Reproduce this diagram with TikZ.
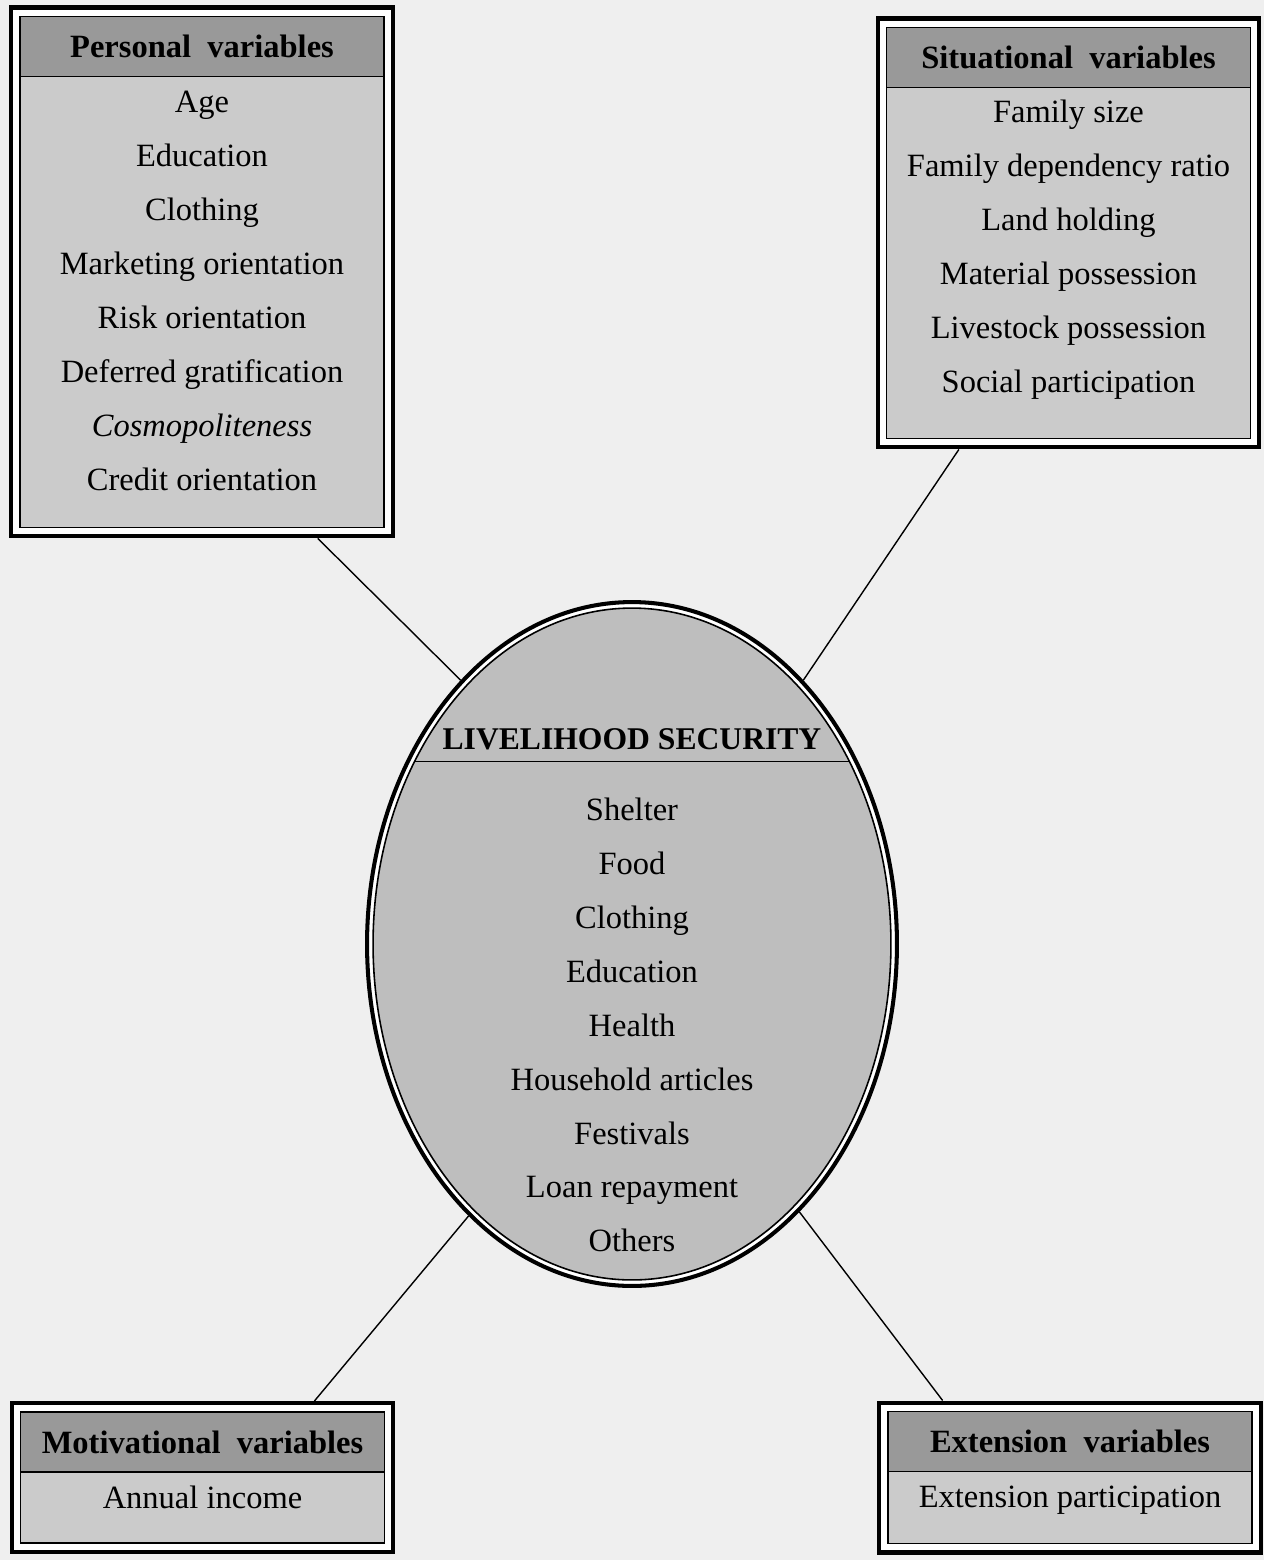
\documentclass[tikz,border=0pt]{standalone}
\usepackage{fontspec}
\setmainfont{Liberation Serif}
\usetikzlibrary{calc, positioning, shapes.geometric, fit, backgrounds}
\definecolor{papier}{HTML}{EFEFEF}
\definecolor{kopf}{HTML}{999999}
\definecolor{feld}{HTML}{CBCBCB}
\definecolor{oval}{HTML}{BEBEBE}
\newcommand{\tiefe}[1]{\rule[-#1]{0pt}{0pt}}

\begin{document}
\begin{tikzpicture}[
        x=0.02cm, y=-0.02cm,
        every node/.style={font=\fontsize{18.5}{30.7}\selectfont},
        kopfbox/.style={draw, line width=0.9pt, fill=kopf, minimum width=7.28cm,
          minimum height=1.2cm, inner sep=0pt, outer sep=0pt,
          font=\fontsize{18.5}{22}\selectfont\bfseries},
        feldbox/.style={draw, line width=0.9pt, fill=feld, minimum width=7.28cm,
          inner sep=0pt, outer sep=0pt, align=center},
        rahmen/.style={draw, fill=white, line width=2.3pt, inner sep=0.18cm},
        verbindung/.style={line width=0.8pt},
      ]
      \useasboundingbox (0,0) rectangle (1264,1560);

      % Personal variables
      \node[kopfbox] (ph) at (202,46.5) {Personal\hspace{0.5em}variables};
      \node[feldbox, minimum height=9.02cm, below=0pt of ph] (pb)
        {Age\\Education\\Clothing\\Marketing orientation\\Risk orientation\\
         Deferred gratification\\\textit{Cosmopoliteness}\\Credit orientation\tiefe{13pt}};

      % Situational variables
      \node[kopfbox] (sh) at (1068.5,57.5) {Situational\hspace{0.5em}variables};
      \node[feldbox, minimum height=7.02cm, below=0pt of sh] (sb)
        {Family size\\Family dependency ratio\\Land holding\\Material possession\\
         Livestock possession\\Social participation\tiefe{19pt}};

      % Motivational / Extension variables
      \node[kopfbox] (mh) at (202.5,1442) {Motivational\hspace{0.5em}variables};
      \node[feldbox, minimum height=1.42cm, below=0pt of mh] (mb) {Annual income\tiefe{11.5pt}};
      \node[kopfbox] (eh) at (1070,1441.5) {Extension\hspace{0.5em}variables};
      \node[feldbox, minimum height=1.44cm, below=0pt of eh] (eb) {Extension participation\tiefe{12pt}};

      % Papier und aeussere Rahmen (hinten)
      \begin{scope}[on background layer]
        \fill[papier] (0,0) rectangle (1264,1560);
        \foreach \k/\h/\b in {pers/ph/pb, sit/sh/sb, mot/mh/mb, ext/eh/eb} {
          \node[rahmen, fit=(\h)(\b)] (\k) {};
        }
      \end{scope}

      % Livelihood security
      \node[ellipse, draw, fill=white, line width=2.3pt, minimum width=10.6cm,
        minimum height=13.68cm, inner sep=0pt] (lsrand) at (632,944) {};
      \node[ellipse, draw, line width=0.9pt, fill=oval, minimum width=10.36cm,
        minimum height=13.44cm, inner sep=0pt, outer sep=0pt] (ls) at (lsrand) {};
      \node[font=\fontsize{18}{22}\selectfont\bfseries] (lstitel) at (632,739) {LIVELIHOOD SECURITY};
      \draw[line width=0.9pt] (ls.140) -- (ls.40);
      \node[align=center] (lsliste) at (632,1025)
        {Shelter\\Food\\Clothing\\Education\\Health\\Household articles\\
         Festivals\\Loan repayment\\Others};

      % Verbindungen
      \draw[verbindung] ($(pers.south west)!0.8!(pers.south east)$) -- (lsrand.123);
      \draw[verbindung] ($(sit.south west)!0.216!(sit.south east)$) -- (lsrand.57);
      \draw[verbindung] ($(mot.north west)!0.79!(mot.north east)$) -- (lsrand.239);
      \draw[verbindung] ($(ext.north west)!0.17!(ext.north east)$) -- (lsrand.302);
    \end{tikzpicture}
\end{document}
